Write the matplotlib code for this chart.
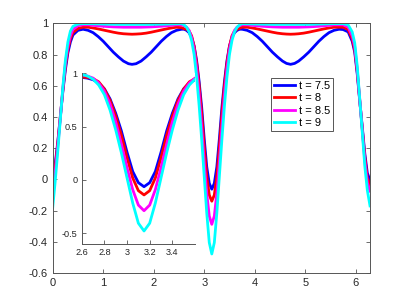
import matplotlib
matplotlib.use("Agg")
import matplotlib.pyplot as plt

plt.rcParams['font.family'] = ['Liberation Sans', 'DejaVu Sans']

# ---- data ----
x = [0, 0.05, 0.1, 0.15, 0.2, 0.25, 0.3, 0.35, 0.4, 0.5, 0.6, 0.7, 0.8, 0.9, 1.0,
     1.1, 1.2, 1.3, 1.4, 1.5, 1.57, 1.65, 1.75, 1.85, 1.95, 2.05, 2.15, 2.25, 2.35,
     2.45, 2.55,
     2.60, 2.65, 2.70, 2.75, 2.80, 2.85, 2.90, 2.95, 3.00, 3.05, 3.10, 3.15, 3.20,
     3.25, 3.30, 3.35, 3.40, 3.45, 3.50, 3.55, 3.60, 3.65, 3.70,
     3.75, 3.85, 3.95, 4.05, 4.15, 4.25, 4.35, 4.45, 4.55, 4.63, 4.71, 4.79, 4.87,
     4.97, 5.07, 5.17, 5.27, 5.37, 5.47, 5.57, 5.67,
     5.75, 5.85, 5.93, 5.98, 6.03, 6.08, 6.13, 6.18, 6.23, 6.283]

u_75 = [-0.015, 0.10, 0.24, 0.40, 0.56, 0.70, 0.81, 0.88, 0.925, 0.955, 0.962, 0.955,
        0.94, 0.915, 0.885, 0.85, 0.815, 0.785, 0.758, 0.741, 0.737, 0.741, 0.758,
        0.785, 0.815, 0.85, 0.885, 0.915, 0.94, 0.955, 0.962,
        0.962, 0.955, 0.94, 0.91, 0.855, 0.76, 0.625, 0.46, 0.26, 0.08, -0.025, -0.063,
        -0.025, 0.08, 0.26, 0.46, 0.625, 0.76, 0.855, 0.91, 0.94, 0.955, 0.962,
        0.962, 0.955, 0.94, 0.915, 0.885, 0.85, 0.815, 0.785, 0.758, 0.743, 0.737,
        0.743, 0.758, 0.785, 0.815, 0.85, 0.885, 0.915, 0.94, 0.955, 0.962,
        0.960, 0.945, 0.885, 0.815, 0.675, 0.50, 0.335, 0.165, 0.04, -0.005]

u_8 = [-0.04, 0.08, 0.23, 0.40, 0.57, 0.72, 0.83, 0.90, 0.94, 0.967, 0.975, 0.975,
       0.97, 0.964, 0.957, 0.95, 0.943, 0.937, 0.933, 0.931, 0.93, 0.931, 0.933,
       0.937, 0.943, 0.95, 0.957, 0.964, 0.97, 0.975, 0.972,
       0.965, 0.962, 0.95, 0.92, 0.852, 0.746, 0.60, 0.42, 0.21, 0.02, -0.10, -0.14,
       -0.10, 0.02, 0.21, 0.42, 0.60, 0.746, 0.852, 0.92, 0.95, 0.962, 0.968,
       0.975, 0.975, 0.97, 0.964, 0.957, 0.95, 0.943, 0.937, 0.933, 0.931, 0.93,
       0.931, 0.933, 0.937, 0.943, 0.95, 0.957, 0.964, 0.97, 0.975, 0.975,
       0.975, 0.960, 0.900, 0.830, 0.690, 0.505, 0.325, 0.145, 0.01, -0.035]

u_85 = [-0.08, 0.05, 0.21, 0.39, 0.58, 0.74, 0.85, 0.92, 0.96, 0.985, 0.99, 0.99,
        0.987, 0.984, 0.981, 0.979, 0.977, 0.976, 0.975, 0.975, 0.975, 0.975, 0.975,
        0.976, 0.977, 0.979, 0.981, 0.984, 0.987, 0.99, 0.99,
        0.985, 0.975, 0.955, 0.91, 0.833, 0.713, 0.545, 0.338, 0.115, -0.09, -0.235,
        -0.288, -0.235, -0.09, 0.115, 0.338, 0.545, 0.713, 0.833, 0.91, 0.955, 0.975,
        0.985,
        0.99, 0.99, 0.987, 0.984, 0.981, 0.979, 0.977, 0.976, 0.975, 0.975, 0.975,
        0.975, 0.975, 0.976, 0.977, 0.979, 0.981, 0.984, 0.987, 0.99, 0.99,
        0.990, 0.975, 0.920, 0.850, 0.705, 0.510, 0.315, 0.120, -0.02, -0.075]

u_9 = [-0.18, -0.01, 0.18, 0.38, 0.59, 0.76, 0.88, 0.95, 0.98, 0.995, 0.998, 0.998,
       0.997, 0.996, 0.995, 0.994, 0.994, 0.993, 0.993, 0.993, 0.993, 0.993, 0.993,
       0.993, 0.993, 0.994, 0.994, 0.995, 0.996, 0.997, 0.998,
       0.99, 0.975, 0.945, 0.89, 0.80, 0.655, 0.47, 0.255, 0.02, -0.215, -0.405,
       -0.478, -0.405, -0.215, 0.02, 0.255, 0.47, 0.655, 0.80, 0.89, 0.945, 0.975,
       0.99,
       0.998, 0.997, 0.996, 0.995, 0.994, 0.994, 0.993, 0.993, 0.993, 0.993, 0.993,
       0.993, 0.993, 0.993, 0.993, 0.994, 0.995, 0.996, 0.997, 0.998, 0.998,
       0.998, 0.990, 0.945, 0.875, 0.725, 0.515, 0.300, 0.085, -0.07, -0.17]

labels = ['t = 7.5', 't = 8', 't = 8.5', 't = 9']
colors = ['#0000ff', '#ff0000', '#ff00ff', '#00ffff']
series = [u_75, u_8, u_85, u_9]

main_xticks = [0, 1, 2, 3, 4, 5, 6]
main_yticks = [-0.6, -0.4, -0.2, 0, 0.2, 0.4, 0.6, 0.8, 1]
main_yticklabels = ['-0.6', '-0.4', '-0.2', '0', '0.2', '0.4', '0.6', '0.8', '1']
inset_xticks = [2.6, 2.8, 3.0, 3.2, 3.4]
inset_xticklabels = ['2.6', '2.8', '3', '3.2', '3.4']
inset_yticks = [-0.5, 0, 0.5, 1]
inset_yticklabels = ['-0.5', '0', '0.5', '1']

# ---- figure ----
fig = plt.figure(figsize=(4.09, 3.07), dpi=100)
ax = fig.add_axes([0.1289, 0.1107, 0.7758, 0.8134])
spine_c = '#555555'
for y, c, lab in zip(series, colors, labels):
    ax.plot(x, y, color=c, lw=2.0, label=lab, solid_joinstyle='round')
ax.set_xlim(0, 6.2832)
ax.set_ylim(-0.6, 1)
ax.set_xticks(main_xticks)
ax.set_xticklabels([str(v) for v in main_xticks])
ax.set_yticks(main_yticks)
ax.set_yticklabels(main_yticklabels)
ax.tick_params(direction='in', length=3, width=0.6, colors=spine_c, labelcolor='#262626',
               labelsize=8, top=True, right=True, pad=3.5)
for s in ax.spines.values():
    s.set_color(spine_c)
    s.set_linewidth(0.7)

leg = ax.legend(loc='upper left', bbox_to_anchor=(0.688, 0.782), fontsize=8,
                frameon=True, fancybox=False, edgecolor='#555555', framealpha=1,
                handlelength=1.9, handletextpad=0.3, borderpad=0.3, labelspacing=0.2,
                borderaxespad=0)
leg.get_frame().set_linewidth(0.7)

# ---- inset ----
ax2 = fig.add_axes([0.1998, 0.2052, 0.277, 0.556])
ax2.set_facecolor('white')
for y, c in zip(series, colors):
    ax2.plot(x, y, color=c, lw=2.0, solid_joinstyle='round')
ax2.set_xlim(2.6, 3.6)
ax2.set_ylim(-0.6, 1)
ax2.set_xticks(inset_xticks)
ax2.set_xticklabels(inset_xticklabels)
ax2.set_yticks(inset_yticks)
ax2.set_yticklabels(inset_yticklabels)
ax2.spines['top'].set_visible(False)
ax2.spines['right'].set_visible(False)
for s in ['left', 'bottom']:
    ax2.spines[s].set_color(spine_c)
    ax2.spines[s].set_linewidth(0.7)
ax2.tick_params(direction='in', length=3, width=0.6, colors=spine_c, labelcolor='#262626',
                labelsize=6.6, pad=3)

fig.savefig('out.png', dpi=100)
